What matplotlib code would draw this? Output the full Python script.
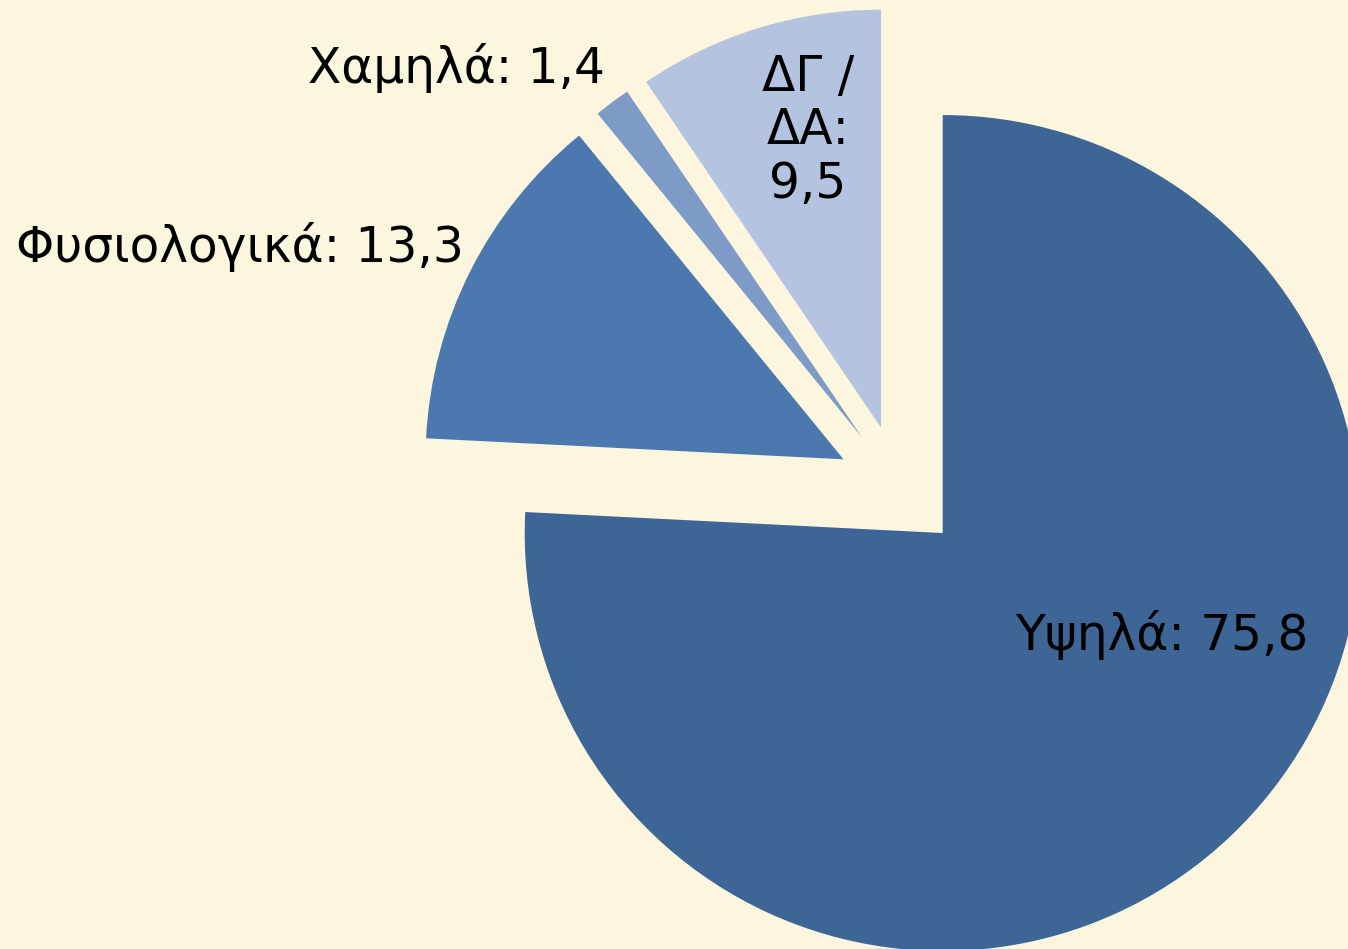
import matplotlib
matplotlib.use("Agg")
import matplotlib.pyplot as plt

# data
categories = ["Υψηλά", "Φυσιολογικά", "Χαμηλά", "ΔΓ /\nΔΑ"]
values = [75.8, 13.3, 1.4, 9.5]
colors = ["#3D6595", "#4A78AF", "#7E9BC8", "#B4C3DF"]
label_texts = ["Υψηλά: 75,8", "Φυσιολογικά: 13,3", "Χαμηλά: 1,4", "ΔΓ /\nΔΑ:\n9,5"]
# label positions in data units (pie radius = 1)
label_pos = [(0.628, -0.353), (-1.578, 0.576), (-1.059, 1.004), (-0.219, 0.855)]

bg = "#FCF6DE"
W, H = 1348, 949
fig = plt.figure(figsize=(W / 100, H / 100), dpi=100, facecolor=bg)
ax = fig.add_axes([0, 0, 1, 1])
ax.set_facecolor(bg)

wedges, _ = ax.pie(values, colors=colors, startangle=90, counterclock=False,
                   explode=[0.15] * len(values), radius=1.0,
                   wedgeprops=dict(linewidth=0))

# pie centre at (899.5, 487.6) px, radius 418 px
cx, cy, r = 899.5, 487.6, 418.0
ax.set_xlim(-cx / r, (W - cx) / r)
ax.set_ylim(-(H - cy) / r, cy / r)
ax.set_aspect("auto")
ax.axis("off")

for txt, (x, y) in zip(label_texts, label_pos):
    ax.text(x, y, txt, ha="center", va="center", fontsize=35,
            family="DejaVu Sans", color="black", linespacing=1.15)

fig.savefig("out.png", dpi=100, facecolor=bg)
